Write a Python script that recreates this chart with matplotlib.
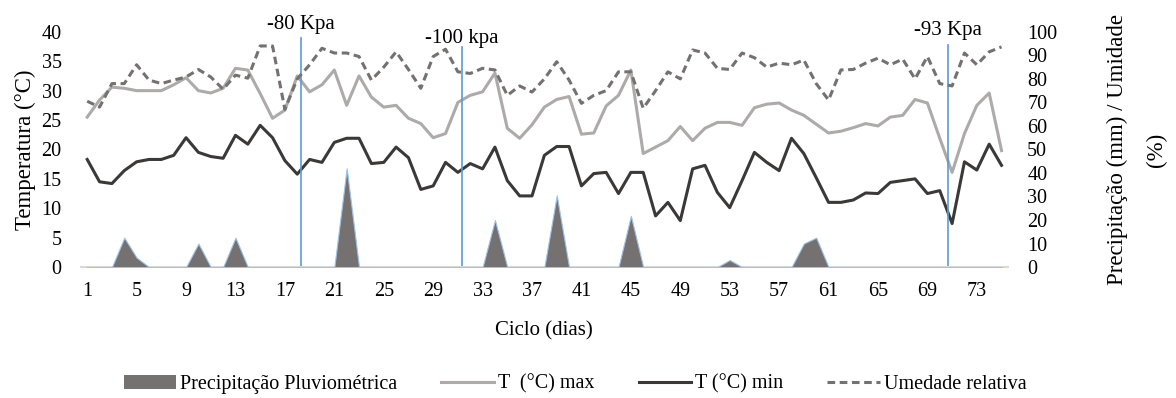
import matplotlib.pyplot as plt
import numpy as np
from matplotlib.patches import Patch
from matplotlib.lines import Line2D

plt.rcParams['font.family'] = ['Liberation Serif', 'DejaVu Serif']

dias = np.arange(1, 76)

t_max = [25.5, 28.4, 30.6, 30.4, 30.0, 30.0, 30.0, 31.0, 32.2, 30.0,
         29.6, 30.4, 33.8, 33.5, 29.5, 25.3, 26.7, 32.5, 29.8, 31.0,
         33.5, 27.5, 32.5, 28.9, 27.2, 27.5, 25.3, 24.4, 22.0, 22.7,
         28.0, 29.2, 29.8, 33.0, 23.6, 21.9, 24.2, 27.2, 28.5, 29.0,
         22.6, 22.8, 27.4, 29.2, 33.5, 19.3, 20.4, 21.5, 23.9, 21.5,
         23.6, 24.6, 24.6, 24.1, 27.1, 27.7, 27.9, 26.7, 25.8, 24.3,
         22.8, 23.1, 23.7, 24.4, 24.0, 25.5, 25.8, 28.5, 27.9, 21.9,
         16.1, 22.7, 27.5, 29.6, 19.8]

t_min = [18.3, 14.5, 14.2, 16.4, 17.9, 18.3, 18.3, 19.0, 22.0, 19.5,
         18.8, 18.5, 22.4, 20.9, 24.1, 22.0, 18.1, 15.8, 18.3, 17.8,
         21.2, 21.9, 21.9, 17.6, 17.8, 20.4, 18.6, 13.2, 13.8, 17.8,
         16.1, 17.6, 16.7, 20.4, 14.7, 12.1, 12.1, 19.0, 20.5, 20.5,
         13.8, 15.9, 16.1, 12.5, 16.1, 16.1, 8.7, 11.0, 7.9, 16.7,
         17.3, 12.7, 10.1, 14.7, 19.5, 17.8, 16.4, 21.9, 19.3, 15.2,
         11.0, 11.0, 11.4, 12.6, 12.5, 14.4, 14.7, 15.0, 12.5, 13.0,
         7.4, 17.9, 16.5, 20.9, 17.3]

umidade = [70.5, 68.0, 78.0, 78.0, 86.0, 79.5, 78.0, 79.5, 80.8, 84.0,
           80.8, 75.6, 81.6, 80.3, 94.0, 94.0, 67.0, 80.0, 86.0, 93.0,
           91.0, 91.0, 89.5, 79.5, 85.0, 91.5, 84.0, 76.0, 89.5, 92.6,
           83.0, 82.3, 84.5, 83.8, 73.0, 77.0, 74.4, 80.0, 87.3, 79.5,
           69.6, 73.0, 75.0, 83.0, 83.0, 67.5, 75.0, 83.0, 80.0, 92.3,
           91.0, 84.5, 84.0, 91.0, 89.0, 85.0, 86.7, 86.0, 88.0, 78.0,
           71.0, 83.8, 84.0, 86.7, 88.8, 86.0, 88.4, 80.0, 89.5, 78.0,
           77.0, 91.0, 86.0, 91.5, 93.6]

precip = np.zeros(75)
precip_dias = [4, 5, 10, 13, 22, 34, 39, 45, 53, 59, 60]
precip_vals = [12.5, 4.0, 10.0, 12.5, 42.0, 20.0, 30.5, 21.8, 3.0, 10.0, 12.5]
precip[np.array(precip_dias) - 1] = precip_vals

marcos = [18.3, 31.3, 70.7]
marcos_txt = ['-80 Kpa', '-100 kpa', '-93 Kpa']

fig = plt.figure(figsize=(11.76, 3.98), dpi=100)
ax = fig.add_axes([0.0689, 0.329, 0.788, 0.591])
ax2 = ax.twinx()

ax2.fill_between(dias, precip, 0, color='#757171', edgecolor='#9DC3E6', lw=0.8, zorder=1)
ax.plot(dias, t_max, color='#AEAAAA', lw=2.2)
ax.plot(dias, t_min, color='#3B3838', lw=2.2)
ax2.plot(dias, umidade, color='#767171', lw=2.2, linestyle=(0, (2.5, 1.5)))

tops = [0.975, 0.937, 0.945]
ys = [41.2, 38.9, 40.2]
for m, t, top, y in zip(marcos, marcos_txt, tops, ys):
    ax.axvline(m, ymin=0, ymax=top, color='#5B9BD5', lw=1.2)
    ax.text(m, y, t, ha='center', va='center', fontsize=15, clip_on=False)

ax.set_xlim(0.5, 75.5)
ax.set_ylim(0, 40)
ax2.set_ylim(0, 100)
ax.set_xticks(np.arange(1, 76, 4))
ax.set_yticks(np.arange(0, 41, 5))
ax2.set_yticks(np.arange(0, 101, 10))

for a in (ax, ax2):
    for s in ('top', 'left', 'right', 'bottom'):
        a.spines[s].set_visible(False)
ax.spines['bottom'].set_visible(True)
ax.spines['bottom'].set_color('#D9D9D9')
ax.spines['bottom'].set_linewidth(1.5)

ax.tick_params(axis='both', length=0, labelsize=14.5)
ax.tick_params(axis='x', pad=11)
ax.tick_params(axis='y', pad=14)
ax2.tick_params(axis='y', length=0, labelsize=14.5, pad=14)

ax.set_xlabel('Ciclo (dias)', fontsize=15, labelpad=14)
ax.set_ylabel('Temperatura (°C)', fontsize=16.5, labelpad=4)
ax2.set_ylabel('Precipitação (mm) / Umidade\n(%)', fontsize=16.5, labelpad=36, linespacing=2.1)

handles = [
    Patch(facecolor='#757171', edgecolor='none'),
    Line2D([], [], color='#AEAAAA', lw=2.2),
    Line2D([], [], color='#3B3838', lw=2.2),
    Line2D([], [], color='#767171', lw=2.2, linestyle=(0, (2.5, 1.5))),
]
labels = ['Precipitação Pluviométrica', 'T  (°C) max', 'T (°C) min', 'Umedade relativa']
fig.legend(handles, labels, loc='center', bbox_to_anchor=(0.489, 0.035), ncol=4,
           frameon=False, fontsize=14.5, handlelength=2.6, handletextpad=0.2,
           columnspacing=2.2)

fig.savefig('out.png', dpi=100)
